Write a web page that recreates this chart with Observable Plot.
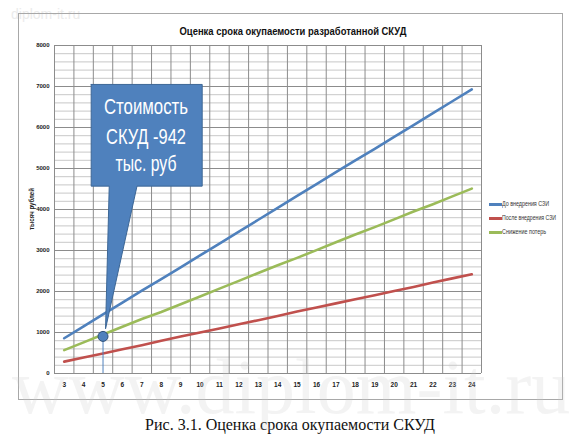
<!DOCTYPE html>
<html>
<head>
<meta charset="utf-8">
<script src="https://cdn.jsdelivr.net/npm/d3@7"></script>
<script src="https://cdn.jsdelivr.net/npm/@observablehq/plot@0.6"></script>
<style>
  body { margin: 0; background: #fff; position: relative; width: 580px; height: 446px; overflow: hidden; }
  #wrap { position: absolute; left: 0; top: 0; width: 580px; height: 405px; }
  #wrap svg { position: absolute; left: 0; top: 0; }
  .ov { position: absolute; pointer-events: none; white-space: nowrap; font-family: "Liberation Sans", "Roboto", sans-serif; }
  #caption { position: absolute; left: 0; top: 414px; width: 580px; height: 24px; text-align: center; font-family: "Liberation Serif", "DejaVu Serif", serif; font-size: 16px; color: #111; line-height: 22px; }
</style>
</head>
<body>
<div id="wrap"></div>
<div id="caption">Рис. 3.1. Оценка срока окупаемости СКУД</div>
<script>
// ---- data ----
const years   = [3, 4, 5, 6, 7, 8, 9, 10, 11, 12, 13, 14, 15, 16, 17, 18, 19, 20, 21, 22, 23, 24];
const before  = [860, 1150, 1440, 1730, 2020, 2300, 2590, 2880, 3170, 3460, 3750, 4040, 4330, 4620, 4910, 5200, 5480, 5770, 6060, 6350, 6640, 6930];
const after   = [290, 390, 490, 590, 690, 800, 900, 1000, 1100, 1200, 1300, 1400, 1510, 1610, 1710, 1810, 1910, 2010, 2110, 2220, 2320, 2420];
const savings = [570, 760, 950, 1140, 1330, 1500, 1690, 1880, 2070, 2260, 2450, 2640, 2820, 3010, 3200, 3390, 3570, 3760, 3950, 4130, 4320, 4510];
const seriesNames = ["До внедрения СЗИ", "После внедрения СЗИ", "Снижение потерь"];
const seriesColors = ["#4f81bd", "#c0504d", "#9bbb59"];
const yTicks = [0, 1000, 2000, 3000, 4000, 5000, 6000, 7000, 8000];
const yMinor = [200, 400, 600, 800, 1200, 1400, 1600, 1800, 2200, 2400, 2600, 2800, 3200, 3400, 3600, 3800, 4200, 4400, 4600, 4800, 5200, 5400, 5600, 5800, 6200, 6400, 6600, 6800, 7200, 7400, 7600, 7800];
const title = "Оценка срока окупаемости разработанной СКУД";
const yLabel = "тысяч рублей";
const calloutLines = ["Стоимость", "СКУД -942", "тыс. руб"];
const calloutLineY = [6490, 5760, 5100];
const calloutX = 7.25;
const calloutShape = [
  {x: 4.39, y: 7050}, {x: 10.11, y: 7050}, {x: 10.11, y: 4570},
  {x: 6.75, y: 4570}, {x: 5.13, y: 1090}, {x: 5.32, y: 4570},
  {x: 4.39, y: 4570}, {x: 4.39, y: 7050}
];
const paybackYear = 5;
const paybackValue = 905;

// ---- build table ----
const rows = [];
[before, after, savings].forEach((arr, k) => {
  years.forEach((yr, i) => rows.push({year: yr, value: arr[i], series: seriesNames[k]}));
});
const bandEdges = years.map(y => y - 0.5).concat([years[years.length - 1] + 0.5]);

const chart = Plot.plot({
  width: 580,
  height: 405,
  marginLeft: 54,
  marginRight: 99,
  marginTop: 45,
  marginBottom: 32,
  style: {fontFamily: '"Liberation Sans", sans-serif', background: "transparent", overflow: "visible"},
  x: {domain: [years[0] - 0.5, years[years.length - 1] + 0.5], axis: null},
  y: {domain: [0, 8000], axis: null},
  color: {domain: seriesNames, range: seriesColors},
  marks: [
    Plot.ruleY(yMinor, {stroke: "#c8c8c8", strokeWidth: 1}),
    Plot.ruleY(yTicks, {stroke: "#8c8c8c", strokeWidth: 1}),
    Plot.ruleX(bandEdges, {stroke: "#8c8c8c", strokeWidth: 1}),
    Plot.axisX({ticks: years, tickSize: 0, tickPadding: 9, tickFormat: d => String(d), fontSize: 6.5, fontWeight: "bold", fill: "#222", label: null}),
    Plot.axisY({ticks: yTicks, tickSize: 0, tickPadding: 5, tickFormat: d => String(d), fontSize: 6, fontWeight: "bold", fill: "#222", label: null}),
    Plot.line(rows, {x: "year", y: "value", z: "series", stroke: "series", strokeWidth: 2.6}),
    Plot.ruleX([paybackYear], {y1: 0, y2: paybackValue, stroke: "#4f81bd", strokeWidth: 1}),
    Plot.line(calloutShape, {x: "x", y: "y", fill: "#4f81bd", stroke: "#3d6796", strokeWidth: 1, curve: "linear"}),
    Plot.dot([{x: paybackYear, y: paybackValue}], {x: "x", y: "y", r: 5, fill: "#4f81bd", stroke: "#2f5179", strokeWidth: 1})
  ]
});
const wrap = document.getElementById("wrap");
wrap.appendChild(chart);
const sx = chart.scale("x"), sy = chart.scale("y");

// overlay helper; fitW = target width to condense text to (narrow font look)
function ov(html, css, opts = {}) {
  const d = document.createElement("div");
  d.className = "ov";
  d.textContent = html;
  Object.assign(d.style, css);
  (opts.parent || wrap).appendChild(d);
  let s = 1;
  if (opts.fitW) s = opts.fitW / d.offsetWidth;
  const pre = opts.center ? "translate(-50%,-50%) " : "";
  const rot = opts.rotate ? "rotate(-90deg) " : "";
  if (opts.fitW || opts.center || opts.rotate) d.style.transform = pre + rot + `scaleX(${s})`;
  if (!opts.center) d.style.transformOrigin = "left center";
  return d;
}
// watermark (top left)
ov("diplom-it.ru", {left: "11px", top: "6px", fontSize: "14px", color: "#ebebeb"});
// outer frame
ov("", {left: "18px", top: "13px", width: "543px", height: "385px", border: "1px solid #a8a8a8"});
// title
ov(title, {left: "293px", top: "31px", fontSize: "11.5px", fontWeight: "bold", color: "#111", lineHeight: "14px"}, {center: true, fitW: 227});
// y label
ov(yLabel, {left: "32px", top: "209px", fontSize: "6.5px", fontWeight: "bold", color: "#222", lineHeight: "8px"}, {center: true, rotate: true, fitW: 42});
// legend
const legendWidths = [47, 54, 44];
seriesNames.forEach((name, i) => {
  const y = [204, 218, 232][i];
  ov("", {left: "489px", top: (y - 1.5) + "px", width: "13px", height: "3px", background: seriesColors[i]});
  ov(name, {left: "502px", top: (y - 4) + "px", fontSize: "6.5px", color: "#333", lineHeight: "8px"}, {fitW: legendWidths[i]});
});
// callout text
const calloutWidths = [84, 80, 61];
calloutLines.forEach((t, i) => {
  ov(t, {left: sx.apply(calloutX) + "px", top: sy.apply(calloutLineY[i]) + "px", fontSize: "22px", color: "#fff", lineHeight: "26px"}, {center: true, fitW: calloutWidths[i]});
});
// big watermark
ov("www.diplom-it.ru", {left: "12px", top: "344px", fontSize: "78px", color: "rgba(200,200,200,0.22)", fontFamily: "Liberation Serif, serif", lineHeight: "86px"}, {parent: document.body});
</script>
</body>
</html>
